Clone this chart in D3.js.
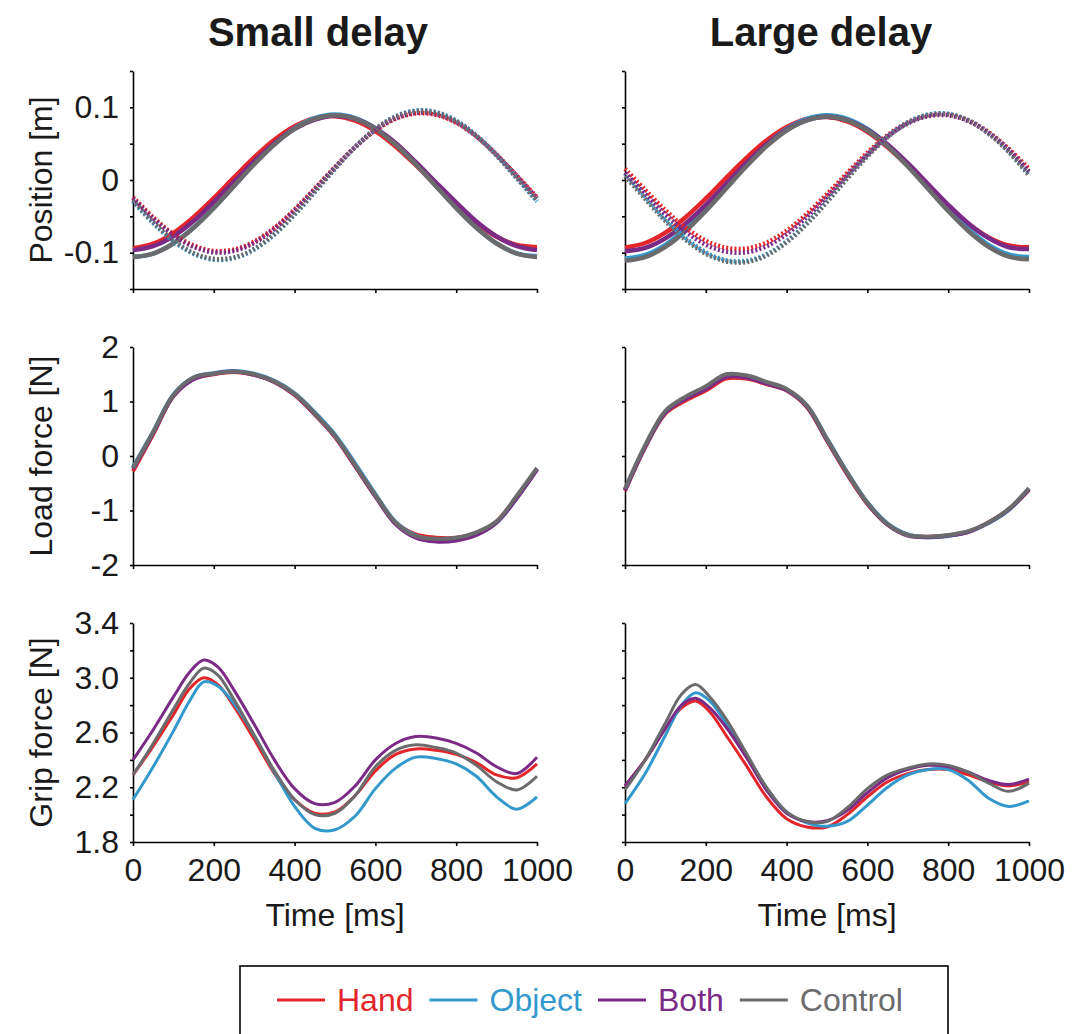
<!DOCTYPE html>
<html><head><meta charset="utf-8">
<script src="https://cdn.jsdelivr.net/npm/d3@7"></script>
<style>
body{margin:0;background:#fff}
svg{display:block}
text{font-family:"Liberation Sans",Arial,Helvetica,sans-serif}
</style>
</head><body>
<svg id="chart" width="1083" height="1034"></svg>
<script>
// ---------------- DATA ----------------
const timeMs = [0,50,100,150,200,250,300,350,400,450,500,550,600,650,700,750,800,850,900,950,1000];
const gripTimeMs = [0,50,100,140,175,210,250,300,350,400,450,500,550,600,650,700,750,800,850,900,950,1000];
const seriesNames = ["Hand","Object","Both","Control"];
const seriesColors = ["#e3262b","#3399cc","#7b2a86","#6b6b6d"];
const conditionTitles = ["Small delay","Large delay"];
const rowLabels = ["Position [m]","Load force [N]","Grip force [N]"];
const xTickValues = [0,200,400,600,800,1000];
const xLabel = "Time [ms]";

const posTicks = [-0.15,-0.1,-0.05,0,0.05,0.1,0.15];
const posTickLabels = [-0.1,0,0.1];
const loadTicks = [-2,-1,0,1,2];
const loadTickLabels = [-2,-1,0,1,2];
const gripTicks = [1.8,2.0,2.2,2.4,2.6,2.8,3.0,3.2,3.4];
const gripTickLabels = [1.8,2.2,2.6,3.0,3.4];

// Position, small delay (solid)
const posSmallHandSolid    = [-0.094,-0.0877,-0.0730,-0.0512,-0.0250,0.0035,0.0311,0.0553,0.0740,0.0852,0.0878,0.0817,0.0674,0.0462,0.0204,-0.0077,-0.0351,-0.0593,-0.0780,-0.0895,-0.0925];
const posSmallObjectSolid  = [-0.106,-0.1012,-0.0873,-0.0656,-0.0383,-0.008,0.0223,0.0496,0.0713,0.0852,0.090,0.0852,0.0713,0.0496,0.0223,-0.008,-0.0383,-0.0656,-0.0873,-0.1010,-0.105];
const posSmallBothSolid    = [-0.0965,-0.091,-0.0775,-0.0565,-0.030,-0.0025,0.0255,0.0505,0.0705,0.0830,0.0883,0.0840,0.0710,0.0510,0.0245,-0.0035,-0.031,-0.057,-0.0775,-0.091,-0.0965];
const posSmallControlSolid = [-0.106,-0.1012,-0.0874,-0.0658,-0.0386,-0.0085,0.0216,0.0488,0.0704,0.0842,0.089,0.0842,0.0704,0.0488,0.0216,-0.0085,-0.0386,-0.0658,-0.0874,-0.1012,-0.106];
// Position, small delay (dotted)
const posSmallHandDotted    = [-0.0237,-0.0514,-0.0743,-0.0902,-0.0976,-0.0957,-0.0848,-0.0658,-0.0407,-0.0119,0.0177,0.0454,0.0683,0.0842,0.0916,0.0897,0.0788,0.0598,0.0347,0.0059,-0.0237];
const posSmallObjectDotted  = [-0.0295,-0.0594,-0.0843,-0.1016,-0.1096,-0.1075,-0.0957,-0.0751,-0.0479,-0.0167,0.0155,0.0454,0.0703,0.0876,0.0956,0.0935,0.0817,0.0611,0.0339,0.0027,-0.0295];
const posSmallBothDotted    = [-0.025,-0.053,-0.076,-0.092,-0.0995,-0.0975,-0.0865,-0.0672,-0.0418,-0.0126,0.0174,0.0455,0.0688,0.0849,0.0924,0.0905,0.0794,0.0602,0.0348,0.0055,-0.025];
const posSmallControlDotted = [-0.028,-0.058,-0.083,-0.1005,-0.1085,-0.1065,-0.0948,-0.0743,-0.0472,-0.0162,0.0158,0.0455,0.0701,0.0871,0.0949,0.0928,0.0811,0.0606,0.0336,0.0026,-0.028];

// Position, large delay (solid)
const posLargeHandSolid    = [-0.0928,-0.0867,-0.0724,-0.0512,-0.0254,0.0027,0.0301,0.0543,0.0730,0.0842,0.0868,0.0807,0.0664,0.0452,0.0194,-0.0087,-0.0361,-0.0603,-0.0790,-0.0902,-0.0925];
const posLargeObjectSolid  = [-0.108,-0.1032,-0.0892,-0.0674,-0.0399,-0.0095,0.0209,0.0484,0.0702,0.0842,0.089,0.0842,0.0702,0.0484,0.0209,-0.0095,-0.0399,-0.0674,-0.0892,-0.1025,-0.106];
const posLargeBothSolid    = [-0.098,-0.0935,-0.0803,-0.0599,-0.0341,-0.0055,0.0231,0.0489,0.0693,0.0825,0.087,0.0825,0.0693,0.0489,0.0231,-0.0055,-0.0341,-0.0599,-0.0800,-0.0925,-0.095];
const posLargeControlSolid = [-0.111,-0.1061,-0.0921,-0.0702,-0.0426,-0.012,0.0186,0.0462,0.0681,0.0821,0.087,0.0821,0.0681,0.0462,0.0186,-0.012,-0.0426,-0.0702,-0.0921,-0.1055,-0.109];
// Position, large delay (dotted)
const posLargeHandDotted    = [0.0154,-0.0136,-0.0416,-0.0657,-0.0835,-0.0933,-0.0943,-0.0862,-0.0698,-0.0468,-0.0194,0.0096,0.0376,0.0617,0.0795,0.0893,0.0903,0.0822,0.0658,0.0428,0.0154];
const posLargeObjectDotted  = [0.009,-0.0228,-0.0535,-0.0799,-0.0994,-0.1102,-0.1112,-0.1023,-0.0844,-0.0592,-0.0291,0.0028,0.0335,0.0599,0.0794,0.0902,0.0912,0.0823,0.0644,0.0392,0.009];
const posLargeBothDotted    = [0.010,-0.019,-0.047,-0.071,-0.089,-0.0985,-0.0995,-0.0912,-0.0745,-0.051,-0.023,0.0065,0.035,0.0598,0.0778,0.0878,0.0890,0.0810,0.0648,0.0420,0.0115];
const posLargeControlDotted = [0.005,-0.026,-0.0565,-0.0825,-0.1015,-0.112,-0.113,-0.104,-0.0858,-0.0605,-0.0302,0.0018,0.0325,0.0590,0.0785,0.0893,0.0903,0.0815,0.0636,0.0385,0.006];

// Load force
const loadSmallHand    = [-0.28,0.40,1.10,1.42,1.50,1.54,1.49,1.36,1.12,0.76,0.35,-0.19,-0.74,-1.22,-1.44,-1.50,-1.50,-1.42,-1.20,-0.75,-0.24];
const loadSmallObject  = [-0.20,0.45,1.13,1.44,1.52,1.56,1.51,1.38,1.15,0.80,0.39,-0.14,-0.70,-1.21,-1.46,-1.54,-1.53,-1.44,-1.22,-0.77,-0.24];
const loadSmallBoth    = [-0.24,0.42,1.10,1.41,1.51,1.55,1.49,1.36,1.13,0.77,0.36,-0.18,-0.74,-1.25,-1.50,-1.57,-1.55,-1.45,-1.22,-0.77,-0.25];
const loadSmallControl = [-0.22,0.44,1.12,1.44,1.51,1.55,1.50,1.37,1.14,0.78,0.37,-0.17,-0.72,-1.22,-1.47,-1.52,-1.50,-1.40,-1.20,-0.73,-0.22];
const loadLargeHand    = [-0.64,0.16,0.78,1.02,1.20,1.42,1.42,1.32,1.20,0.90,0.28,-0.34,-0.88,-1.26,-1.45,-1.48,-1.46,-1.39,-1.22,-0.98,-0.62];
const loadLargeObject  = [-0.62,0.18,0.80,1.06,1.24,1.46,1.45,1.34,1.21,0.93,0.32,-0.30,-0.85,-1.24,-1.44,-1.49,-1.47,-1.39,-1.23,-0.99,-0.60];
const loadLargeBoth    = [-0.63,0.17,0.80,1.05,1.23,1.45,1.44,1.33,1.21,0.91,0.29,-0.32,-0.87,-1.26,-1.46,-1.49,-1.46,-1.39,-1.22,-0.98,-0.61];
const loadLargeControl = [-0.60,0.20,0.83,1.09,1.28,1.50,1.48,1.36,1.23,0.93,0.31,-0.31,-0.86,-1.25,-1.45,-1.48,-1.45,-1.38,-1.22,-0.97,-0.59];

// Grip force (sampled at gripTimeMs)
const gripSmallHand    = [2.29,2.50,2.73,2.92,3.00,2.95,2.79,2.55,2.30,2.11,2.01,2.02,2.14,2.32,2.44,2.48,2.47,2.44,2.38,2.29,2.27,2.37];
const gripSmallObject  = [2.11,2.35,2.61,2.83,2.97,2.94,2.81,2.58,2.31,2.06,1.90,1.89,1.99,2.19,2.34,2.42,2.41,2.37,2.28,2.13,2.04,2.13];
const gripSmallBoth    = [2.40,2.62,2.86,3.04,3.13,3.08,2.91,2.66,2.40,2.19,2.08,2.09,2.21,2.40,2.52,2.57,2.56,2.52,2.45,2.35,2.30,2.42];
const gripSmallControl = [2.29,2.52,2.77,2.96,3.07,3.02,2.84,2.58,2.32,2.11,2.00,2.01,2.14,2.35,2.47,2.51,2.49,2.45,2.36,2.24,2.18,2.28];
const gripLargeHand    = [2.21,2.40,2.63,2.78,2.83,2.75,2.58,2.36,2.13,1.97,1.91,1.91,2.00,2.13,2.24,2.30,2.33,2.33,2.29,2.24,2.21,2.24];
const gripLargeObject  = [2.08,2.30,2.58,2.80,2.89,2.83,2.67,2.44,2.20,2.02,1.94,1.915,1.95,2.07,2.20,2.29,2.33,2.33,2.25,2.12,2.06,2.10];
const gripLargeBoth    = [2.21,2.40,2.63,2.80,2.85,2.78,2.64,2.42,2.18,2.01,1.95,1.955,2.03,2.16,2.27,2.33,2.36,2.35,2.31,2.25,2.22,2.26];
const gripLargeControl = [2.18,2.40,2.67,2.88,2.95,2.86,2.70,2.45,2.20,2.02,1.95,1.95,2.05,2.19,2.29,2.34,2.37,2.36,2.31,2.23,2.17,2.23];

// ---------------- LAYOUT ----------------
const colX = [[133,537],[625,1029]];
const rowY = [[71,289],[347,565],[623,842]];
const FONT = 32;

const svg = d3.select("#chart");

const rows = [
  {domain:[-0.15,0.15], ticks:posTicks, labels:posTickLabels, fmt:d=>d===0?"0":String(d), width:4.5, time:timeMs,
   solid:[[posSmallHandSolid,posSmallObjectSolid,posSmallBothSolid,posSmallControlSolid],
          [posLargeHandSolid,posLargeObjectSolid,posLargeBothSolid,posLargeControlSolid]],
   dotted:[[posSmallHandDotted,posSmallObjectDotted,posSmallBothDotted,posSmallControlDotted],
           [posLargeHandDotted,posLargeObjectDotted,posLargeBothDotted,posLargeControlDotted]]},
  {domain:[-2,2], ticks:loadTicks, labels:loadTickLabels, fmt:d=>String(d), width:4, time:timeMs,
   solid:[[loadSmallHand,loadSmallObject,loadSmallBoth,loadSmallControl],
          [loadLargeHand,loadLargeObject,loadLargeBoth,loadLargeControl]]},
  {domain:[1.8,3.4], ticks:gripTicks, labels:gripTickLabels, fmt:d=>d.toFixed(1), width:3, time:gripTimeMs,
   solid:[[gripSmallHand,gripSmallObject,gripSmallBoth,gripSmallControl],
          [gripLargeHand,gripLargeObject,gripLargeBoth,gripLargeControl]]}
];

function isLabel(list, d){ return list.some(v => Math.abs(v-d) < 1e-9); }

rows.forEach((row, r) => {
  const y = d3.scaleLinear().domain(row.domain).range([rowY[r][1], rowY[r][0]]);
  [0,1].forEach(c => {
    const x = d3.scaleLinear().domain([0,1000]).range(colX[c]);
    const g = svg.append("g");
    const ya = d3.axisLeft(y).tickValues(row.ticks).tickSize(3).tickSizeOuter(0).tickPadding(11)
      .tickFormat(d => (c===0 && isLabel(row.labels,d)) ? row.fmt(d) : "");
    const gy = g.append("g").attr("transform",`translate(${colX[c][0]},0)`).call(ya);
    const xa = d3.axisBottom(x).tickValues(xTickValues).tickSize(4).tickSizeOuter(0).tickPadding(12)
      .tickFormat(d => r===2 ? String(d) : "");
    const gx = g.append("g").attr("transform",`translate(0,${rowY[r][1]})`).call(xa);
    [gy,gx].forEach(a => {
      a.attr("font-family",null).attr("font-size",null);
      a.selectAll("path.domain").attr("stroke","#000").attr("stroke-width",1.6);
      a.selectAll(".tick line").attr("stroke","#000").attr("stroke-width",1.6);
      a.selectAll(".tick text").attr("fill","#1a1a1a").style("font-size",FONT+"px");
    });

    const line = d3.line()
      .x((v,i) => x(row.time[i]))
      .y(v => y(v))
      .curve(d3.curveCatmullRom.alpha(0.5));

    const lg = g.append("g");
    row.solid[c].forEach((vals, s) => {
      lg.append("path").attr("d", line(vals)).attr("fill","none")
        .attr("stroke", seriesColors[s]).attr("stroke-width", row.width)
        .attr("stroke-linecap","butt").attr("stroke-linejoin","round");
    });
    if (row.dotted) {
      row.dotted[c].forEach((vals, s) => {
        lg.append("path").attr("d", line(vals)).attr("fill","none")
          .attr("stroke", seriesColors[s]).attr("stroke-width", 4.5)
          .attr("stroke-dasharray","2,2.2").attr("stroke-linecap","butt");
      });
    }

    if (r===2) {
      g.append("text").attr("x",(colX[c][0]+colX[c][1])/2).attr("y",926)
        .attr("text-anchor","middle").style("font-size",FONT+"px").attr("fill","#1a1a1a").text(xLabel);
    }
  });
  const cy = (rowY[r][0]+rowY[r][1])/2;
  svg.append("text").attr("transform",`translate(52,${cy}) rotate(-90)`)
    .attr("text-anchor","middle").style("font-size",FONT+"px").attr("fill","#1a1a1a").text(rowLabels[r]);
});

// titles
const titleX = [318, 821];
conditionTitles.forEach((t,i) => {
  svg.append("text").attr("x",titleX[i]).attr("y",46).attr("text-anchor","middle")
    .style("font-size","40px").style("font-weight","bold").attr("fill","#1a1a1a").text(t);
});

// legend
svg.append("rect").attr("x",240).attr("y",966).attr("width",708).attr("height",120)
  .attr("fill","none").attr("stroke","#000").attr("stroke-width",1.6);
let lx = 277;
seriesNames.forEach((name, s) => {
  svg.append("line").attr("x1",lx).attr("x2",lx+48).attr("y1",1000).attr("y2",1000)
    .attr("stroke",seriesColors[s]).attr("stroke-width",3);
  const t = svg.append("text").attr("x",lx+60).attr("y",1011).style("font-size",FONT+"px")
    .attr("fill",seriesColors[s]).text(name);
  lx += 60 + t.node().getComputedTextLength() + 16;
});
</script>
</body></html>
